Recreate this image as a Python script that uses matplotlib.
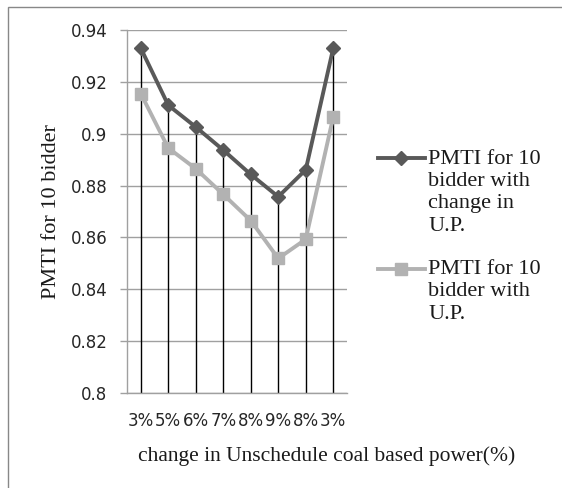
import matplotlib
matplotlib.use("Agg")
import matplotlib.pyplot as plt
import matplotlib.patches as mpatches
from matplotlib.legend_handler import HandlerLine2D
import numpy as np

categories = ["3%", "5%", "6%", "7%", "8%", "9%", "8%", "3%"]
pmti_change_up = [0.933, 0.911, 0.9026, 0.8937, 0.8843, 0.8757, 0.8861, 0.933]
pmti_up = [0.9155, 0.8945, 0.8865, 0.8766, 0.8665, 0.8519, 0.8593, 0.9065]
yticks = [0.8, 0.82, 0.84, 0.86, 0.88, 0.9, 0.92, 0.94]
ytick_labels = ["0.8", "0.82", "0.84", "0.86", "0.88", "0.9", "0.92", "0.94"]
label_a = "PMTI for 10\nbidder with\nchange in\nU.P."
label_b = "PMTI for 10\nbidder with\nU.P."

W, H = 562, 488
fig = plt.figure(figsize=(W / 100, H / 100), dpi=100)
ax = fig.add_axes([127 / W, 1 - 393 / H, 220 / W, 363 / H])

x = np.arange(len(categories))
top = np.maximum(pmti_change_up, pmti_up)
ax.vlines(x, 0.8, top, colors="black", linewidth=1.0, zorder=2)

la, = ax.plot(x, pmti_change_up, color="#595959", linewidth=2.8, marker="D",
              markersize=7, label=label_a, zorder=4)
lb, = ax.plot(x, pmti_up, color="#B2B2B2", linewidth=2.8, marker="s",
              markersize=9, label=label_b, zorder=3)

ax.set_xlim(-0.5, len(categories) - 0.5)
ax.set_ylim(0.8, 0.94)
ax.set_yticks(yticks)
ax.set_yticklabels(ytick_labels, fontsize=12, family="DejaVu Sans", color="#262626")
ax.set_xticks(x)
ax.set_xticklabels(categories, fontsize=12, family="DejaVu Sans", color="#262626")
ax.tick_params(axis="x", length=0, pad=14)
ax.tick_params(axis="y", length=5, color="#A0A0A0", width=1, pad=9)
ax.grid(axis="y", color="#A0A0A0", linewidth=1)
ax.set_axisbelow(True)
for s in ["top", "right"]:
    ax.spines[s].set_visible(False)
for s in ["left", "bottom"]:
    ax.spines[s].set_color("#A0A0A0")
    ax.spines[s].set_linewidth(1)

ax.set_ylabel("PMTI for 10 bidder", family="Liberation Serif", fontsize=16,
              color="#1a1a1a")
ax.yaxis.set_label_coords(-0.30, 0.5)
ax.set_xlabel("change in Unschedule coal based power(%)", family="Liberation Serif",
              fontsize=15.5, color="#1a1a1a")
ax.xaxis.set_label_coords(0.907, -0.146)


class TopHandler(HandlerLine2D):
    def __init__(self, offset, **kw):
        super().__init__(**kw)
        self.offset = offset

    def create_artists(self, legend, orig_handle, xdescent, ydescent, width,
                       height, fontsize, trans):
        arts = super().create_artists(legend, orig_handle, xdescent, ydescent,
                                      width, height, fontsize, trans)
        for a in arts:
            a.set_ydata(np.asarray(a.get_ydata(), dtype=float) + self.offset)
        return arts


line_pt = 16.2
leg = fig.legend(handles=[la, lb], loc="upper left",
                 bbox_to_anchor=(378 / W, 1 - 150 / H),
                 frameon=False, prop={"family": "Liberation Serif", "size": 16},
                 handlelength=2.1, handletextpad=0.15, labelspacing=1.1,
                 borderpad=0, borderaxespad=0,
                 handler_map={la: TopHandler(1.5 * line_pt),
                              lb: TopHandler(1.0 * line_pt)})
for t in leg.get_texts():
    t.set_color("#1a1a1a")
    t.set_linespacing(1.23)

fig.patches.append(mpatches.Rectangle((8 / W, -0.1), 2, 1 - 7 / H + 0.1,
                                      transform=fig.transFigure, fill=False,
                                      edgecolor="#888888", linewidth=1))

fig.savefig("out.png", dpi=100)
